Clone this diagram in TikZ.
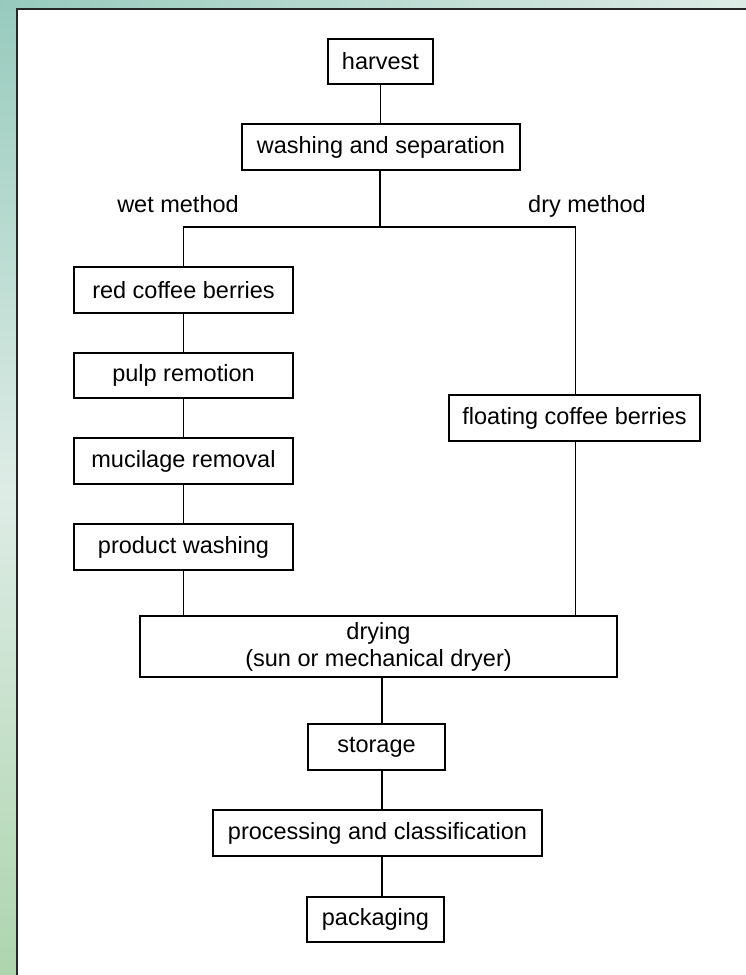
\documentclass[tikz,border=0pt]{standalone}
\usepackage{fontspec}
\setmainfont{Liberation Sans}
\definecolor{bgtop}{RGB}{150,202,188}
\definecolor{bgbot}{RGB}{172,212,172}
\definecolor{bgmid}{RGB}{222,236,230}
\begin{document}
\begin{tikzpicture}[x=0.5pt,y=-0.5pt,
  box/.style={draw=black,line width=0.75pt,rectangle,inner sep=0pt,align=center,
    font={\fontsize{11.75}{13.5}\selectfont}},
  sz/.style n args={2}{minimum width=#1*0.5pt,minimum height=#2*0.5pt},
  lbl/.style={inner sep=0pt,anchor=base,font={\fontsize{11.75}{13.5}\selectfont}},
  conn/.style={draw=black,line width=0.75pt}]
\useasboundingbox (0,0) rectangle (745,975);
% background
\shade[top color=bgtop,bottom color=bgbot,middle color=bgmid,shading angle=0] (-10,-10) rectangle (760,990);
\shade[left color=bgtop,right color=bgmid] (-10,-10) rectangle (760,10);
\fill[white] (17,9) rectangle (760,990);
\draw[line width=0.7pt,black!85] (17,990) -- (17,9) -- (760,9);
% nodes
\node[box,sz={105}{45}] (harvest) at (380.5,61.5) {harvest};
\node[box,sz={278}{46}] (wash) at (381,147) {washing and separation};
\node[lbl] (wet) at (178,212) {wet method};
\node[lbl] (drym) at (587,212) {dry method};
\node[box,sz={219}{46}] (red) at (183.5,290) {red coffee berries};
\node[box,sz={219}{45}] (pulp) at (183.5,375.5) {pulp remotion};
\node[box,sz={219}{46}] (muc) at (183.5,461) {mucilage removal};
\node[box,sz={219}{46}] (prod) at (183.5,547) {product washing};
\node[box,sz={251}{46}] (float) at (574.5,418) {floating coffee berries};
\node[box,sz={477}{61}] (dry) at (378.5,646.5) {\raisebox{-1pt}{drying}\\\raisebox{-1pt}{(sun or mechanical dryer)}};
\node[box,sz={137}{46}] (stor) at (376.5,747) {storage};
\node[box,sz={329}{46}] (proc) at (377.5,833) {processing and classification};
\node[box,sz={137}{45}] (pack) at (375.5,919.5) {packaging};
% coordinates
\coordinate (split) at (380,227);
\coordinate (wl) at (183.5,227);
\coordinate (wr) at (575.5,227);
\coordinate (cx) at (382,0);
% connectors
\draw[conn] (harvest.south) -- (harvest.south |- wash.north);
\draw[conn] (wash.south -| split) -- (split);
\draw[conn] (red.north) -- (wl) -- (wr) -- (wr |- float.north);
\draw[conn] (red) -- (pulp);
\draw[conn] (pulp) -- (muc);
\draw[conn] (muc) -- (prod);
\draw[conn] (prod.south) -- (prod.south |- dry.north);
\draw[conn] (wr |- float.south) -- (wr |- dry.north);
\draw[conn] (dry.south -| cx) -- (stor.north -| cx);
\draw[conn] (stor.south -| cx) -- (proc.north -| cx);
\draw[conn] (proc.south -| cx) -- (pack.north -| cx);
\end{tikzpicture}
\end{document}
